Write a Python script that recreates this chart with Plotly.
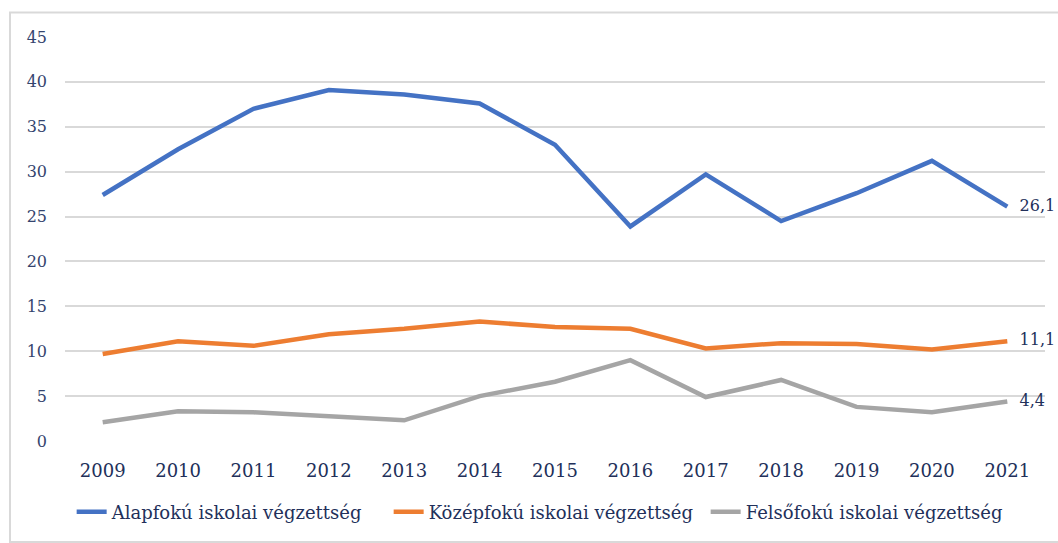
import plotly.graph_objects as go

years = ["2009", "2010", "2011", "2012", "2013", "2014", "2015", "2016", "2017", "2018", "2019", "2020", "2021"]
alap = [27.4, 32.5, 37.0, 39.1, 38.6, 37.6, 33.0, 23.9, 29.7, 24.5, 27.6, 31.2, 26.1]
kozep = [9.7, 11.1, 10.6, 11.9, 12.5, 13.3, 12.7, 12.5, 10.3, 10.9, 10.8, 10.2, 11.1]
felso = [2.1, 3.3, 3.2, 2.8, 2.3, 5.0, 6.6, 9.0, 4.9, 6.8, 3.8, 3.2, 4.4]
names = ["Alapfokú iskolai végzettség", "Középfokú iskolai végzettség", "Felsőfokú iskolai végzettség"]
colors = ["#4472C4", "#ED7D31", "#A5A5A5"]
y_ticks = [0, 5, 10, 15, 20, 25, 30, 35, 40, 45]

FONT = "DejaVu Serif"
TICKC = "#22305a"

fig = go.Figure()
for name, vals, col in zip(names, [alap, kozep, felso], colors):
    fig.add_trace(go.Scatter(x=years, y=vals, mode="lines", name=name,
                             line=dict(color=col, width=4.5), cliponaxis=False))
for vals in [alap, kozep, felso]:
    fig.add_trace(go.Scatter(x=[years[-1]], y=[vals[-1]], mode="markers+text",
                             text=[f"{vals[-1]:.1f}".replace(".", ",")],
                             textposition="middle right",
                             marker=dict(size=18, color="rgba(0,0,0,0)"),
                             textfont=dict(family=FONT, size=16, color=TICKC),
                             showlegend=False, hoverinfo="skip", cliponaxis=False))

fig.add_shape(type="rect", xref="paper", yref="paper",
              x0=-0.0561, x1=1.03, y0=-0.25, y1=1.0605,
              line=dict(color="#d9d9d9", width=2), fillcolor="rgba(0,0,0,0)", layer="below")

fig.update_layout(
    width=1058, height=543,
    margin=dict(l=65, r=13, t=37, b=91),
    paper_bgcolor="white", plot_bgcolor="white",
    font=dict(family=FONT, size=17, color=TICKC),
    showlegend=True,
    legend=dict(orientation="h", x=0.492, xanchor="center", y=-0.176, yanchor="middle",
                font=dict(family=FONT, size=18, color=TICKC), tracegroupgap=0,
                entrywidth=272, entrywidthmode="pixels"),
    xaxis=dict(type="category", range=[-0.5, 12.5], showgrid=False, zeroline=False,
               showline=False, ticks="", tickfont=dict(family=FONT, size=18, color=TICKC),
               ticklabelstandoff=17),
    yaxis=dict(range=[0, 45], tickvals=y_ticks, showgrid=True, gridcolor="#d9d9d9", gridwidth=1.5,
               zeroline=False, showline=False, ticks="",
               tickfont=dict(family=FONT, size=16, color="#34446e"), ticklabelstandoff=17),
)

fig.write_html(
    "out.html",
    config={"displayModeBar": False},
    post_script=("document.body.style.margin='0px';"
                 "document.body.style.overflow='hidden';"
                 "document.documentElement.style.overflow='hidden';"),
)
